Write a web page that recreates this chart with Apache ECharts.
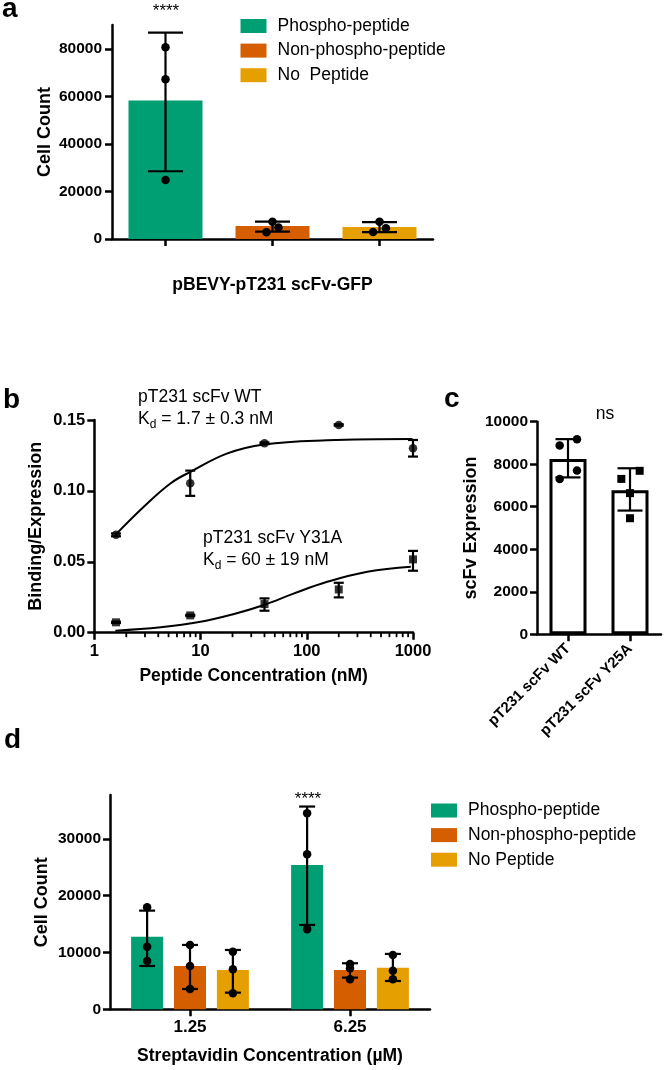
<!DOCTYPE html>
<html>
<head>
<meta charset="utf-8">
<script src="https://cdn.jsdelivr.net/npm/echarts@6/dist/echarts.min.js"></script>
<style>html,body{margin:0;padding:0;background:#fff}#chart{width:666px;height:1070px}</style>
</head>
<body>
<div id="chart"></div>
<script>
// ---------------- Panel a ----------------
const aSeriesNames = ['Phospho-peptide', 'Non-phospho-peptide', 'No  Peptide'];
const aMeans = [58200, 5500, 5000];
const aErrLow = [28500, 3100, 2900];
const aErrHigh = [86800, 7300, 7100];
const aPoints = [[80600, 67200, 24800], [7300, 2800, 4800], [7300, 2900, 4500]];
const aJitter = [[0, 0, 0], [0, -0.056, 0.056], [0, -0.06, 0.06]];
const aTickValues = [0, 20000, 40000, 60000, 80000];

// ---------------- Panel b ----------------
const bConc = [1.6, 8, 40, 200, 1000];
const bWT = [0.069, 0.1054, 0.1336, 0.1465, 0.130];
const bWTLow = [0.068, 0.0965, 0.1330, 0.1460, 0.1242];
const bWTHigh = [0.070, 0.1143, 0.1342, 0.1470, 0.1359];
const bY31A = [0.0073, 0.0122, 0.0202, 0.0305, 0.0517];
const bY31ALow = [0.0068, 0.0117, 0.0155, 0.0249, 0.0437];
const bY31AHigh = [0.0078, 0.0127, 0.0242, 0.0352, 0.0577];
const bFitWTx = [1.58, 2.94, 5.24, 8.1, 17.9, 39.6, 156, 988];
const bFitWTy = [0.069, 0.089, 0.1054, 0.1136, 0.1265, 0.1328, 0.1357, 0.1366];
const bFitY31Ax = [1.58, 4.22, 10, 20.7, 39.6, 76, 156, 372, 955];
const bFitY31Ay = [0.0014, 0.0038, 0.0077, 0.0132, 0.0195, 0.0277, 0.0359, 0.0430, 0.0465];
const bMinorTicks = [2, 3, 4, 5, 6, 7, 8, 9, 20, 30, 40, 50, 60, 70, 80, 90, 200, 300, 400, 500, 600, 700, 800, 900];

// ---------------- Panel c ----------------
const cCategories = ['pT231 scFv WT', 'pT231 scFv Y25A'];
const cMeans = [8250, 6780];
const cErrLow = [7380, 5820];
const cErrHigh = [9180, 7810];
const cPoints = [[9180, 8880, 7700, 7310], [7690, 7310, 6640, 5460]];
const cJitter = [[0.145, -0.134, 0.145, -0.134], [0.156, -0.14, 0, 0]];

// ---------------- Panel d ----------------
const dCategories = ['1.25', '6.25'];
const dSeriesNames = ['Phospho-peptide', 'Non-phospho-peptide', 'No Peptide'];
const dMeans = [[12780, 25400], [7620, 6900], [6920, 7300]];
const dErrLow = [[7620, 14840], [3570, 5570], [2930, 4980]];
const dErrHigh = [[17360, 35670], [11320, 8100], [10440, 9740]];
const dPoints = [
  [[17960, 11020, 8500], [34500, 27290, 14080]],
  [[11300, 7620, 3570], [7980, 7220, 5280]],
  [[10140, 7040, 2820], [9560, 6800, 5280]]
];
const dTickValues = [0, 10000, 20000, 30000];

// ---------------- styling ----------------
const FONT = '"Liberation Sans", Arial, sans-serif';
const COLORS = ['#009E73', '#D55E00', '#E69F00'];
const AXW = 2.5;
const plain = function (v) { return String(v); };

function valueAxis(gridIndex, o) {
  return {
    type: 'value', gridIndex: gridIndex, min: o.min, max: o.max, interval: o.interval,
    name: o.name, nameLocation: 'middle', nameGap: o.nameGap,
    nameTextStyle: {color: '#000', fontFamily: FONT, fontWeight: 'bold', fontSize: 18},
    axisLine: {show: true, lineStyle: {color: '#000', width: AXW}},
    axisTick: {show: true, length: 7, lineStyle: {color: '#000', width: AXW}, customValues: o.ticks},
    axisLabel: {color: '#000', fontFamily: FONT, fontWeight: 'bold', fontSize: o.fs || 15.5, margin: o.margin || 9,
      customValues: o.ticks, formatter: o.formatter || plain},
    splitLine: {show: false}
  };
}
function catAxis(gridIndex, data, o) {
  return {
    type: 'category', gridIndex: gridIndex, data: data,
    name: o.name, nameLocation: 'middle', nameGap: o.nameGap,
    nameTextStyle: {color: '#000', fontFamily: FONT, fontWeight: 'bold', fontSize: 17.5},
    axisLine: {show: true, lineStyle: {color: '#000', width: AXW}},
    axisTick: {show: true, alignWithLabel: true, interval: 0, length: 7, lineStyle: {color: '#000', width: AXW}},
    axisLabel: {show: o.showLabel !== false, interval: 0, color: '#000', fontFamily: FONT, fontWeight: 'bold',
      fontSize: o.fs || 15.5, margin: o.margin || 10, rotate: o.rotate || 0},
    splitLine: {show: false}
  };
}

function errorBarItem(capHalf, offsetPx) {
  return function (params, api) {
    const x = api.value(0);
    const lo = api.coord([x, api.value(1)]);
    const hi = api.coord([x, api.value(2)]);
    const cx = lo[0] + offsetPx;
    const st = {stroke: '#000', lineWidth: 2.2};
    return {type: 'group', children: [
      {type: 'line', shape: {x1: cx, y1: lo[1], x2: cx, y2: hi[1]}, style: st},
      {type: 'line', shape: {x1: cx - capHalf, y1: hi[1], x2: cx + capHalf, y2: hi[1]}, style: st},
      {type: 'line', shape: {x1: cx - capHalf, y1: lo[1], x2: cx + capHalf, y2: lo[1]}, style: st}
    ]};
  };
}
function dotItem(shape, size, offsetPx) {
  return function (params, api) {
    const p = api.coord([api.value(0), api.value(1)]);
    const band = api.size([1, 0])[0];
    const cx = p[0] + api.value(2) * band + offsetPx;
    if (shape === 'circle') {
      return {type: 'circle', shape: {cx: cx, cy: p[1], r: size / 2}, style: {fill: '#000'}};
    }
    return {type: 'rect', shape: {x: cx - size / 2, y: p[1] - size / 2, width: size, height: size}, style: {fill: '#000'}};
  };
}

const series = [];

// Panel a bars
aSeriesNames.forEach(function (name, i) {
  series.push({type: 'bar', name: name, xAxisIndex: 0, yAxisIndex: 0, barWidth: 74, barGap: '-100%', z: 2,
    data: aMeans.map(function (v, j) { return j === i ? v : '-'; }),
    itemStyle: {color: COLORS[i]}});
});
series.push({type: 'custom', xAxisIndex: 0, yAxisIndex: 0, z: 10, renderItem: errorBarItem(17.5, 0),
  data: aMeans.map(function (v, j) { return [j, aErrLow[j], aErrHigh[j]]; })});
const aDots = [];
aPoints.forEach(function (pts, j) { pts.forEach(function (v, k) { aDots.push([j, v, aJitter[j][k]]); }); });
series.push({type: 'custom', xAxisIndex: 0, yAxisIndex: 0, z: 11, renderItem: dotItem('circle', 8.5, 0), data: aDots});

// Panel b
series.push({type: 'line', xAxisIndex: 1, yAxisIndex: 1, smooth: 0.4, showSymbol: false,
  lineStyle: {color: '#000', width: 2}, data: bFitWTx.map(function (x, i) { return [x, bFitWTy[i]]; })});
series.push({type: 'line', xAxisIndex: 1, yAxisIndex: 1, smooth: 0.4, showSymbol: false,
  lineStyle: {color: '#000', width: 2}, data: bFitY31Ax.map(function (x, i) { return [x, bFitY31Ay[i]]; })});
series.push({type: 'custom', xAxisIndex: 1, yAxisIndex: 1, z: 10, renderItem: errorBarItem(5, 0),
  data: bConc.map(function (x, i) { return [x, bWTLow[i], bWTHigh[i]]; })});
series.push({type: 'custom', xAxisIndex: 1, yAxisIndex: 1, z: 10, renderItem: errorBarItem(5, 0),
  data: bConc.map(function (x, i) { return [x, bY31ALow[i], bY31AHigh[i]]; })});
series.push({type: 'scatter', xAxisIndex: 1, yAxisIndex: 1, symbol: 'circle', symbolSize: 8.5, z: 11,
  itemStyle: {color: '#000'}, data: bConc.map(function (x, i) { return [x, bWT[i]]; })});
series.push({type: 'scatter', xAxisIndex: 1, yAxisIndex: 1, symbol: 'rect', symbolSize: 8, z: 11,
  itemStyle: {color: '#000'}, data: bConc.map(function (x, i) { return [x, bY31A[i]]; })});
series.push({type: 'custom', xAxisIndex: 1, yAxisIndex: 1, clip: false,
  renderItem: function (params, api) {
    const p = api.coord([api.value(0), 0]);
    return {type: 'line', shape: {x1: p[0], y1: p[1], x2: p[0], y2: p[1] + 4.5}, style: {stroke: '#000', lineWidth: 1.8}};
  },
  data: bMinorTicks.map(function (v) { return [v, 0]; })});

// Panel c
series.push({type: 'bar', xAxisIndex: 2, yAxisIndex: 2, barWidth: 37, data: cMeans, z: 2,
  itemStyle: {color: '#fff', borderColor: '#000', borderWidth: 3}});
series.push({type: 'custom', xAxisIndex: 2, yAxisIndex: 2, z: 10, renderItem: errorBarItem(12.5, 0),
  data: cMeans.map(function (v, j) { return [j, cErrLow[j], cErrHigh[j]]; })});
const cDots = [[], []];
cPoints.forEach(function (pts, j) { pts.forEach(function (v, k) { cDots[j].push([j, v, cJitter[j][k]]); }); });
series.push({type: 'custom', xAxisIndex: 2, yAxisIndex: 2, z: 11, renderItem: dotItem('circle', 8.5, 0), data: cDots[0]});
series.push({type: 'custom', xAxisIndex: 2, yAxisIndex: 2, z: 11, renderItem: dotItem('rect', 8, 0), data: cDots[1]});

// Panel d
const dBarWidth = 32, dGapRatio = 0.34;
dSeriesNames.forEach(function (name, i) {
  series.push({type: 'bar', name: name, xAxisIndex: 3, yAxisIndex: 3, barWidth: dBarWidth, barGap: '34%', z: 2,
    data: dMeans[i], itemStyle: {color: COLORS[i]}});
});
dSeriesNames.forEach(function (name, i) {
  const off = (i - 1) * dBarWidth * (1 + dGapRatio);
  series.push({type: 'custom', xAxisIndex: 3, yAxisIndex: 3, z: 10, renderItem: errorBarItem(8, off),
    data: dMeans[i].map(function (v, j) { return [j, dErrLow[i][j], dErrHigh[i][j]]; })});
  const dots = [];
  dPoints[i].forEach(function (pts, j) { pts.forEach(function (v) { dots.push([j, v, 0]); }); });
  series.push({type: 'custom', xAxisIndex: 3, yAxisIndex: 3, z: 11, renderItem: dotItem('circle', 8.5, off), data: dots});
});

const legendCommon = {orient: 'vertical', itemWidth: 26, itemHeight: 14, itemGap: 6.6, padding: 0, icon: 'rect',
  selectedMode: false, textStyle: {fontFamily: FONT, fontSize: 17.5, color: '#000', lineHeight: 14, padding: [0, 0, 0, 6]}};

function txt(x, y, text, size, weight, align) {
  return {type: 'text', x: x, y: y, silent: true,
    style: {text: text, fontFamily: FONT, fontSize: size, fontWeight: weight || 'normal', fill: '#000',
      align: align || 'left', verticalAlign: 'middle'}};
}
function kdText(x, y, rest) {
  return {type: 'text', x: x, y: y, silent: true,
    style: {text: '{n|K}{s|d}{n|' + rest + '}', fill: '#000', verticalAlign: 'middle', align: 'left',
      rich: {
        n: {fontFamily: FONT, fontSize: 17.5, fill: '#000', lineHeight: 24, verticalAlign: 'middle'},
        s: {fontFamily: FONT, fontSize: 12, fill: '#000', lineHeight: 12, verticalAlign: 'bottom'}
      }}};
}

const option = {
  animation: false,
  backgroundColor: '#fff',
  grid: [
    {left: 112, top: 25, width: 321, height: 214},
    {left: 94.3, top: 420, width: 318.7, height: 212.7},
    {left: 537, top: 421.7, width: 124, height: 212.6},
    {left: 110, top: 795, width: 320, height: 214.3}
  ],
  xAxis: [
    catAxis(0, aSeriesNames, {name: 'pBEVY-pT231 scFv-GFP', nameGap: 37, showLabel: false}),
    {type: 'log', logBase: 10, gridIndex: 1, min: 1, max: 1000,
      name: 'Peptide Concentration (nM)', nameLocation: 'middle', nameGap: 34,
      nameTextStyle: {color: '#000', fontFamily: FONT, fontWeight: 'bold', fontSize: 17.5},
      axisLine: {show: true, lineStyle: {color: '#000', width: AXW}},
      axisTick: {show: true, length: 7, lineStyle: {color: '#000', width: AXW}},
      axisLabel: {color: '#000', fontFamily: FONT, fontWeight: 'bold', fontSize: 16.5, margin: 10, formatter: plain},
      minorTick: {show: false}, splitLine: {show: false}},
    catAxis(2, cCategories, {rotate: 45, fs: 15, margin: 12}),
    catAxis(3, dCategories, {name: 'Streptavidin Concentration (µM)', nameGap: 38, margin: 10, fs: 17})
  ],
  yAxis: [
    valueAxis(0, {min: 0, max: 90000, interval: 20000, ticks: aTickValues, name: 'Cell Count', nameGap: 58, fs: 15.5, margin: 10}),
    valueAxis(1, {min: 0, max: 0.15, interval: 0.05, name: 'Binding/Expression', nameGap: 49, fs: 16.5, margin: 9,
      formatter: function (v) { return v.toFixed(2); }}),
    valueAxis(2, {min: 0, max: 10000, interval: 2000, name: 'scFv Expression', nameGap: 57, fs: 15.5, margin: 9}),
    valueAxis(3, {min: 0, max: 37700, interval: 10000, ticks: dTickValues, name: 'Cell Count', nameGap: 58.5, fs: 15.5, margin: 9})
  ],
  legend: [
    Object.assign({}, legendCommon, {data: aSeriesNames, left: 240.5, top: 17}),
    Object.assign({}, legendCommon, {data: dSeriesNames, left: 431, top: 801.5})
  ],
  graphic: [
    txt(2, 9, 'a', 28, 'bold'),
    txt(3, 400, 'b', 28, 'bold'),
    txt(444, 399, 'c', 28, 'bold'),
    txt(4, 740, 'd', 28, 'bold'),
    txt(166, 11, '****', 17, 'normal', 'center'),
    txt(308, 799, '****', 17, 'normal', 'center'),
    txt(605, 414, 'ns', 17.5, 'normal', 'center'),
    txt(138, 397, 'pT231 scFv WT', 17.5),
    kdText(138, 419, ' = 1.7 ± 0.3 nM'),
    txt(203, 538, 'pT231 scFv Y31A', 17.5),
    kdText(203, 560, ' = 60 ± 19 nM')
  ],
  series: series
};

const chart = echarts.init(document.getElementById('chart'));
chart.setOption(option);
</script>
</body>
</html>
